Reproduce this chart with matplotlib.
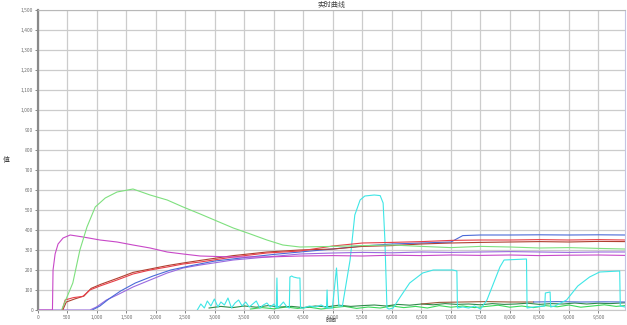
import matplotlib
matplotlib.use("Agg")
import matplotlib.pyplot as plt
from matplotlib.ticker import MultipleLocator, FuncFormatter

plt.rcParams['font.family'] = ['Noto Sans CJK SC', 'DejaVu Sans']

TITLE = "实时曲线"
XLABEL = "时间"
YLABEL = "值"

# series (x in samples, y in value units)
green_x = [400, 590, 710, 830, 970, 1140, 1340, 1610, 1900, 2190, 2460, 2750, 3030,
           3310, 3600, 3880, 4150, 4440, 5000, 5500, 6000, 6500, 7000, 7500, 8000,
           8500, 9000, 9500, 9950]
green_y = [0, 135, 300, 415, 515, 560, 590, 605, 575, 550, 515, 480, 445,
           410, 380, 350, 325, 315, 318, 322, 325, 318, 312, 318, 315,
           310, 312, 308, 305]

magenta_x = [0, 245, 255, 290, 340, 425, 545, 765, 1050, 1340, 1610, 1900, 2190,
             2460, 2750, 3310, 3880, 4440, 5000, 5500, 6000, 6500, 7000, 7500,
             8000, 8500, 9000, 9500, 9950]
magenta_y = [0, 0, 200, 280, 330, 360, 375, 365, 350, 340, 325, 310, 290,
             280, 270, 265, 265, 270, 272, 270, 274, 272, 275, 273,
             275, 272, 274, 275, 273]

red_x = [410, 460, 600, 760, 880, 1050, 1340, 1610, 1900, 2190, 2460, 2750, 3310,
         3880, 4440, 5000, 5500, 6000, 6500, 7000, 7500, 8000, 8500, 9000, 9500, 9950]
red_y = [0, 50, 62, 68, 100, 120, 150, 180, 200, 215, 230, 240, 265,
         285, 295, 320, 335, 338, 342, 348, 350, 350, 352, 350, 352, 350]

brown_x = [420, 480, 620, 780, 900, 1060, 1340, 1610, 1900, 2190, 2460, 2750, 3310,
           3880, 4440, 5000, 5500, 6000, 6500, 7000, 7500, 8000, 8500, 9000, 9500, 9950]
brown_y = [0, 40, 55, 70, 108, 128, 158, 188, 205, 222, 235, 248, 272,
           290, 300, 305, 318, 322, 330, 335, 338, 340, 342, 340, 343, 342]

violet_x = [0, 860, 880, 990, 1160, 1340, 1610, 1900, 2190, 2460, 2750, 3310, 3880,
            4440, 5000, 5500, 6000, 6500, 7000, 7500, 8000, 8500, 9000, 9500, 9950]
violet_y = [0, 0, 0, 15, 50, 75, 115, 150, 185, 210, 225, 250, 265,
            280, 285, 288, 286, 290, 288, 290, 292, 290, 288, 290, 290]

blue_x = [920, 1050, 1200, 1400, 1650, 1950, 2250, 2600, 3000, 3500, 4000, 4440,
          5000, 5500, 6000, 6500, 7000, 7200, 7500, 8000, 8500, 9000, 9500, 9950]
blue_y = [0, 20, 55, 95, 135, 170, 200, 222, 245, 262, 278, 290,
          305, 320, 330, 335, 340, 372, 375, 375, 376, 375, 376, 375]

cyan_x = [2700, 2760, 2820, 2870, 2930, 2990, 3050, 3100, 3160, 3220, 3280, 3340,
          3400, 3460, 3520, 3580, 3640, 3700, 3760, 3820, 3880, 3940, 4000, 4040,
          4050, 4060, 4100, 4160, 4220, 4260, 4270, 4300, 4330, 4400, 4440, 4450,
          4500, 4600, 4700, 4800, 4890, 4900, 4910, 4990, 5060, 5100, 5160, 5290,
          5370, 5460, 5540, 5700, 5800, 5850, 5880, 5915, 5950, 6020, 6140, 6300,
          6520, 6700, 7030, 7100, 7110, 7200, 7300, 7400, 7500, 7610, 7830, 7900,
          8280, 8290, 8400, 8590, 8600, 8680, 8690, 8760, 8960, 9150, 9350, 9520,
          9860, 9870, 9950]
cyan_y = [0, 30, 10, 45, 20, 55, 15, 40, 25, 60, 10, 35,
          50, 20, 40, 15, 30, 45, 10, 25, 35, 15, 30, 10,
          160, 10, 20, 40, 15, 10, 165, 170, 165, 160, 160, 10,
          10, 20, 15, 25, 10, 100, 10, 10, 210, 20, 20, 250,
          475, 550, 570, 575, 572, 535, 350, 10, 5, 10, 65, 135,
          185, 200, 200, 195, 10, 15, 10, 20, 5, 50, 215, 250,
          255, 10, 15, 20, 85, 90, 15, 20, 50, 120, 165, 190,
          195, 20, 15]

dkgreen_x = [2900, 3100, 3300, 3500, 3700, 3900, 4100, 4300, 4500, 4700, 4900, 5100,
             5300, 5500, 5700, 5900, 6100, 6300, 6500, 6700, 6900, 7100, 7300, 7500,
             7700, 7900, 8100, 8300, 8500, 8700, 8900, 9100, 9300, 9500, 9700, 9950]
dkgreen_y = [10, 18, 12, 20, 14, 22, 15, 18, 12, 20, 16, 24,
             18, 22, 25, 20, 28, 24, 30, 26, 32, 28, 30, 26,
             32, 28, 30, 34, 28, 32, 30, 35, 30, 34, 32, 36]

ltgreen_x = [3600, 3800, 4000, 4200, 4400, 4600, 4800, 5000, 5200, 5400, 5600, 5800,
             6000, 6200, 6400, 6600, 6800, 7000, 7200, 7400, 7600, 7800, 8000, 8200,
             8400, 8600, 8800, 9000, 9200, 9400, 9600, 9800, 9950]
ltgreen_y = [5, 12, 6, 15, 8, 14, 5, 12, 18, 8, 15, 10,
             20, 12, 18, 10, 22, 14, 20, 12, 18, 24, 14, 20,
             12, 22, 16, 25, 14, 20, 26, 18, 22]

bottom_brown_x = [6500, 6800, 7200, 7600, 8000, 8400]
bottom_brown_y = [30, 38, 40, 42, 40, 40]
bottom_blue_x = [8400, 8800, 9200, 9600, 9950]
bottom_blue_y = [40, 42, 40, 41, 40]

series = [
    (ltgreen_x, ltgreen_y, "#3ad85a"),
    (dkgreen_x, dkgreen_y, "#2e8b4a"),
    (bottom_brown_x, bottom_brown_y, "#9a5a3a"),
    (bottom_blue_x, bottom_blue_y, "#5070d0"),
    (cyan_x, cyan_y, "#3ee6e6"),
    (violet_x, violet_y, "#9a6ae0"),
    (blue_x, blue_y, "#4a6ad8"),
    (brown_x, brown_y, "#b04030"),
    (red_x, red_y, "#e8404a"),
    (magenta_x, magenta_y, "#c848c8"),
    (green_x, green_y, "#7ee07e"),
]

fig = plt.figure(figsize=(6.27, 3.25), dpi=100)
ax = fig.add_axes([38 / 627, 15 / 325, 587 / 627, 300 / 325])

for xs, ys, c in series:
    ax.plot(xs, ys, color=c, linewidth=0.8)

ax.set_xlim(0, 9950)
ax.set_ylim(0, 1500)
ax.xaxis.set_major_locator(MultipleLocator(500))
ax.yaxis.set_major_locator(MultipleLocator(100))
fmt = FuncFormatter(lambda v, p: f"{int(v):,}")
ax.xaxis.set_major_formatter(fmt)
ax.yaxis.set_major_formatter(fmt)
ax.grid(True, color="#cccccc", linewidth=0.9)
ax.set_axisbelow(True)
ax.tick_params(labelsize=3.6, colors="#707070", length=2, width=0.6, pad=1.5)

ax.spines["left"].set_color("#8a8a8a")
ax.spines["left"].set_linewidth(1.6)
ax.spines["top"].set_color("#b8b8b8")
ax.spines["right"].set_color("#c4c4e4")
ax.spines["bottom"].set_color("#c8c8c8")

ax.set_title(TITLE, fontsize=5, color="#404040", pad=2)
fig.text(331 / 627, 1.5 / 325, XLABEL, fontsize=4, color="#404040",
         ha="center", va="bottom")
ax.set_ylabel(YLABEL, fontsize=5, color="#404040", rotation=0, labelpad=10, va="center")

fig.savefig("out.png", dpi=100, facecolor="white")
